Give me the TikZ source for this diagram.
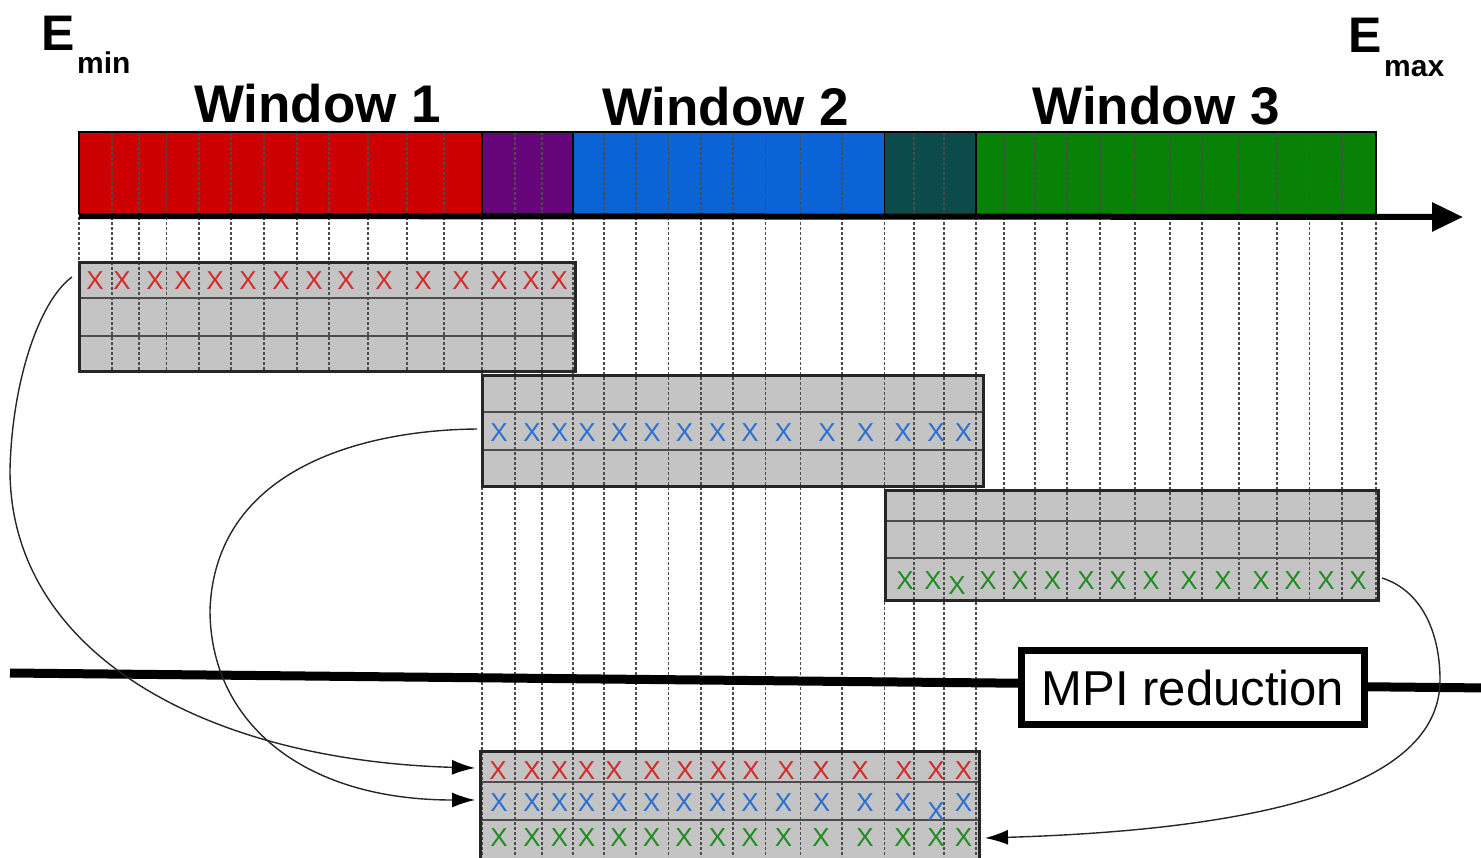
\documentclass[tikz,border=0pt]{standalone}
\usepackage{fontspec}
\setmainfont{Liberation Sans}
\usetikzlibrary{arrows.meta}
\definecolor{wred}{HTML}{CC0000}
\definecolor{wpurple}{HTML}{66047A}
\definecolor{wblue}{HTML}{0A64D6}
\definecolor{wteal}{HTML}{0B4B4B}
\definecolor{wgreen}{HTML}{078207}
\definecolor{xred}{HTML}{D42A2A}
\definecolor{xblue}{HTML}{2A70D4}
\definecolor{xgreen}{HTML}{1E8C1E}
\definecolor{boxgrey}{HTML}{C4C4C4}
\begin{document}
\begin{tikzpicture}[x=1pt,y=-1pt,
  vline/.style={draw=black!70, line width=1.1pt, dash pattern=on 3pt off 2pt},
  gborder/.style={draw=black!85, line width=3pt},
  rowline/.style={draw=black!70, line width=2pt},
  xm/.style={font=\fontsize{26}{26}\selectfont, inner sep=0pt},
  link/.style={draw=black!85, line width=1.4pt},
  wlbl/.style={font=\bfseries\fontsize{53}{60}\selectfont, anchor=base, inner sep=0pt},
  elbl/.style={font=\bfseries\fontsize{50}{50}\selectfont, anchor=base west, inner sep=0pt},
  slbl/.style={font=\bfseries\fontsize{30}{30}\selectfont, anchor=base west, inner sep=0pt}
]
\useasboundingbox (0,0) rectangle (1481,857);

% energy bar
\fill[wred]    (79,132) rectangle (482,214);
\fill[wpurple] (482,132) rectangle (573,214);
\fill[wblue]   (573,132) rectangle (884.5,214);
\fill[wteal]   (884.5,132) rectangle (976,214);
\fill[wgreen]  (976,132) rectangle (1376,214);

% grey boxes
\fill[boxgrey] (79,262) rectangle (575,371);
\fill[boxgrey] (482,375) rectangle (983,486);
\fill[boxgrey] (885,490) rectangle (1378,600);
\fill[boxgrey] (480,751) rectangle (979,870);

% dashed grid lines
\foreach \x in {79,112,139,166.5,199,231,264,297,329,368,407,444}
  \draw[vline] (\x,132) -- (\x,371);
\foreach \x in {482,515,542,573,604,636,668.5,701,733,765.5,800.5,842,884.5,914,944,976}
  \draw[vline] (\x,132) -- (\x,857);
\foreach \x in {1004,1035,1067,1100,1135,1170,1202,1239,1277,1309.5,1342,1376}
  \draw[vline] (\x,132) -- (\x,600);

% bar outline and separators
\draw[line width=1.5pt] (79,214) -- (79,132) -- (1376,132) -- (1376,214);
\foreach \x in {482,573,884.5,976}
  \draw[line width=1.5pt] (\x,132) -- (\x,214);

% axis
\coordinate (ax0) at (79,216);
\coordinate (ax1) at (1463,217);
\draw[line width=6pt, -{Triangle[length=31pt,width=28pt]}] (ax0) -- (ax1);

% box borders and rows
\draw[rowline] (79,298) -- (575,298);
\draw[rowline] (79,336) -- (575,336);
\draw[gborder] (79,262) rectangle (575,371);
\draw[rowline] (482,412) -- (983,412);
\draw[rowline] (482,450) -- (983,450);
\draw[gborder] (482,375) rectangle (983,486);
\draw[rowline] (885,521) -- (1378,521);
\draw[rowline] (885,558) -- (1378,558);
\draw[gborder] (885,490) rectangle (1378,600);
\draw[rowline] (480,782) -- (979,782);
\draw[rowline] (480,820) -- (979,820);
\draw[gborder] (480,751) rectangle (979,870);

% crosses
\foreach \x in {95,122,155,183,215,248,281,314,346,384,423,461,499,531,559}
  \node[xm,text=xred] at (\x,281) {X};
\foreach \x in {499,532,559.5,587,619.5,652,684.5,717.5,750,783.5,827,865.5,903,936,963.5}
  \node[xm,text=xblue] at (\x,432.5) {X};
\foreach \x in {905,933,988,1020,1052.5,1086,1118,1151,1189,1223,1261,1293,1326,1358}
  \node[xm,text=xgreen] at (\x,581) {X};
\node[xm,text=xgreen] at (957,586) {X};
\foreach \x in {498,532,559.5,586.5,614,652,685,718.5,751,786,821,860,904,936,963.5}
  \node[xm,text=xred] at (\x,771) {X};
\foreach \x in {499,532,559.5,586.5,619,651.5,684,717.5,750,783.5,821.5,865,903,963.5}
  \node[xm,text=xblue] at (\x,803) {X};
\node[xm,text=xblue] at (936,812) {X};
\foreach \x in {499,532,559.5,586.5,619,651.5,684,717.5,750,783.5,821,865,903,936,963.5}
  \node[xm,text=xgreen] at (\x,838) {X};

% labels
\node[elbl] (emin) at (41,50) {E};
\node[slbl] (emins) at (77,73) {min};
\node[elbl] (emax) at (1348,52) {E};
\node[slbl] (emaxs) at (1384,76) {max};
\node[wlbl] (w1) at (317.5,122) {Window 1};
\node[wlbl] (w2) at (725.5,125) {Window 2};
\node[wlbl] (w3) at (1156,124) {Window 3};

% MPI reduction
\coordinate (m0) at (10,673);
\coordinate (m1) at (1490,688);
\draw[line width=9pt] (m0) -- (m1);
\node[draw, line width=7pt, fill=white, minimum width=343pt, minimum height=74pt,
      inner sep=0pt, font=\fontsize{49}{50}\selectfont] (mpi) at (1193,687.5) {MPI reduction};

% connectors
\coordinate (s1) at (72,277);
\coordinate (t1) at (475,768);
\coordinate (s2) at (477,429);
\coordinate (t2) at (475,800);
\coordinate (s3) at (1382,578);
\coordinate (t3) at (985,838);
\tikzset{tip/.style={-{Latex[length=23pt,width=15pt,fill=black,color=black]}}}
\draw[link,tip] (s1) .. controls (40,300) and (12,380) .. (10,470)
   .. controls (10,650) and (200,760) .. (t1);
\draw[link,tip] (s2) .. controls (360,430) and (215,470) .. (210,610)
   .. controls (210,720) and (300,800) .. (t2);
\draw[link,tip] (s3) .. controls (1420,590) and (1440,630) .. (1440,680)
   .. controls (1440,790) and (1250,830) .. (t3);
\end{tikzpicture}
\end{document}
